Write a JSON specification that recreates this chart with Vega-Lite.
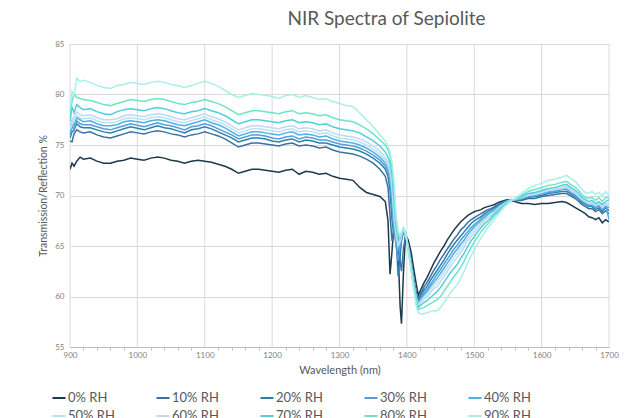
{
  "$schema": "https://vega.github.io/schema/vega-lite/v6.json",
  "width": 539,
  "height": 303,
  "autosize": "none",
  "padding": {"left": 70, "top": 44, "right": 30, "bottom": 71},
  "background": "white",
  "config": {
    "font": "Lato",
    "view": {"stroke": null},
    "axis": {"labelFont": "Lato", "titleFont": "Lato", "labelColor": "#7f7f7f", "titleColor": "#595959", "gridColor": "#d9d9d9", "gridWidth": 1, "titleFontWeight": "normal"}
  },
  "title": {"text": "NIR Spectra of Sepiolite", "fontSize": 19, "font": "Lato", "fontWeight": "normal", "color": "#595959", "anchor": "middle", "dx": 47, "offset": 11},
  "datasets": {
    "gridlines": [{"g":900},{"g":1000},{"g":1100},{"g":1200},{"g":1300},{"g":1400},{"g":1500},{"g":1600},{"g":1700}],
    "spectra": [
    {"w":900,"0% RH":72.6,"10% RH":75.4,"20% RH":75.7,"30% RH":75.9,"40% RH":76.2,"50% RH":76.5,"60% RH":76.8,"70% RH":77.3,"80% RH":78.0,"90% RH":78.6},
    {"w":903,"0% RH":73.2,"10% RH":75.3,"20% RH":76.3,"30% RH":76.9,"40% RH":77.3,"50% RH":77.0,"60% RH":77.5,"70% RH":78.8,"80% RH":79.3,"90% RH":80.3},
    {"w":906,"0% RH":72.9,"10% RH":76.1,"20% RH":76.5,"30% RH":76.5,"40% RH":76.9,"50% RH":77.5,"60% RH":77.8,"70% RH":78.2,"80% RH":80.1,"90% RH":79.9},
    {"w":910,"0% RH":73.4,"10% RH":76.5,"20% RH":77.1,"30% RH":77.4,"40% RH":77.7,"50% RH":77.9,"60% RH":78.3,"70% RH":79.0,"80% RH":79.7,"90% RH":81.6},
    {"w":915,"0% RH":73.8,"10% RH":76.3,"20% RH":76.8,"30% RH":77.1,"40% RH":77.5,"50% RH":77.7,"60% RH":78.0,"70% RH":78.7,"80% RH":79.6,"90% RH":81.3},
    {"w":920,"0% RH":73.6,"10% RH":76.2,"20% RH":76.7,"30% RH":77.0,"40% RH":77.3,"50% RH":77.6,"60% RH":77.9,"70% RH":78.5,"80% RH":79.5,"90% RH":81.4},
    {"w":930,"0% RH":73.7,"10% RH":76.3,"20% RH":76.7,"30% RH":77.0,"40% RH":77.4,"50% RH":77.7,"60% RH":78.0,"70% RH":78.6,"80% RH":79.4,"90% RH":81.2},
    {"w":940,"0% RH":73.4,"10% RH":76.0,"20% RH":76.5,"30% RH":76.8,"40% RH":77.1,"50% RH":77.4,"60% RH":77.7,"70% RH":78.3,"80% RH":79.2,"90% RH":80.9},
    {"w":950,"0% RH":73.2,"10% RH":75.8,"20% RH":76.3,"30% RH":76.6,"40% RH":76.9,"50% RH":77.2,"60% RH":77.5,"70% RH":78.1,"80% RH":79.0,"90% RH":80.7},
    {"w":960,"0% RH":73.2,"10% RH":75.7,"20% RH":76.2,"30% RH":76.5,"40% RH":76.9,"50% RH":77.2,"60% RH":77.5,"70% RH":78.0,"80% RH":78.9,"90% RH":80.6},
    {"w":970,"0% RH":73.4,"10% RH":75.9,"20% RH":76.4,"30% RH":76.7,"40% RH":77.0,"50% RH":77.3,"60% RH":77.6,"70% RH":78.3,"80% RH":79.1,"90% RH":80.9},
    {"w":980,"0% RH":73.5,"10% RH":76.1,"20% RH":76.6,"30% RH":76.9,"40% RH":77.3,"50% RH":77.6,"60% RH":77.9,"70% RH":78.5,"80% RH":79.3,"90% RH":81.0},
    {"w":990,"0% RH":73.7,"10% RH":76.3,"20% RH":76.8,"30% RH":77.1,"40% RH":77.4,"50% RH":77.7,"60% RH":78.0,"70% RH":78.6,"80% RH":79.5,"90% RH":81.2},
    {"w":1000,"0% RH":73.6,"10% RH":76.2,"20% RH":76.65,"30% RH":76.95,"40% RH":77.3,"50% RH":77.6,"60% RH":77.9,"70% RH":78.5,"80% RH":79.4,"90% RH":81.1},
    {"w":1010,"0% RH":73.5,"10% RH":76.1,"20% RH":76.5,"30% RH":76.8,"40% RH":77.2,"50% RH":77.5,"60% RH":77.8,"70% RH":78.4,"80% RH":79.3,"90% RH":81.0},
    {"w":1020,"0% RH":73.7,"10% RH":76.3,"20% RH":76.7,"30% RH":77.0,"40% RH":77.4,"50% RH":77.7,"60% RH":78.0,"70% RH":78.6,"80% RH":79.5,"90% RH":81.2},
    {"w":1030,"0% RH":73.8,"10% RH":76.4,"20% RH":76.9,"30% RH":77.2,"40% RH":77.5,"50% RH":77.8,"60% RH":78.1,"70% RH":78.7,"80% RH":79.6,"90% RH":81.3},
    {"w":1040,"0% RH":73.7,"10% RH":76.3,"20% RH":76.7,"30% RH":77.0,"40% RH":77.4,"50% RH":77.7,"60% RH":78.0,"70% RH":78.6,"80% RH":79.5,"90% RH":81.2},
    {"w":1050,"0% RH":73.5,"10% RH":76.1,"20% RH":76.6,"30% RH":76.9,"40% RH":77.2,"50% RH":77.5,"60% RH":77.8,"70% RH":78.4,"80% RH":79.3,"90% RH":81.0},
    {"w":1060,"0% RH":73.4,"10% RH":76.0,"20% RH":76.4,"30% RH":76.7,"40% RH":77.0,"50% RH":77.3,"60% RH":77.6,"70% RH":78.2,"80% RH":79.1,"90% RH":80.9},
    {"w":1070,"0% RH":73.2,"10% RH":75.8,"20% RH":76.2,"30% RH":76.5,"40% RH":76.9,"50% RH":77.2,"60% RH":77.5,"70% RH":78.1,"80% RH":79.0,"90% RH":80.7},
    {"w":1080,"0% RH":73.4,"10% RH":76.0,"20% RH":76.5,"30% RH":76.8,"40% RH":77.1,"50% RH":77.4,"60% RH":77.7,"70% RH":78.3,"80% RH":79.2,"90% RH":80.9},
    {"w":1090,"0% RH":73.5,"10% RH":76.1,"20% RH":76.6,"30% RH":76.9,"40% RH":77.3,"50% RH":77.6,"60% RH":77.9,"70% RH":78.4,"80% RH":79.3,"90% RH":81.1},
    {"w":1100,"0% RH":73.4,"10% RH":76.3,"20% RH":76.8,"30% RH":77.1,"40% RH":77.5,"50% RH":77.8,"60% RH":78.1,"70% RH":78.6,"80% RH":79.5,"90% RH":81.3},
    {"w":1110,"0% RH":73.3,"10% RH":76.1,"20% RH":76.6,"30% RH":76.9,"40% RH":77.2,"50% RH":77.5,"60% RH":77.8,"70% RH":78.4,"80% RH":79.3,"90% RH":81.1},
    {"w":1120,"0% RH":73.1,"10% RH":75.9,"20% RH":76.3,"30% RH":76.6,"40% RH":77.0,"50% RH":77.3,"60% RH":77.6,"70% RH":78.2,"80% RH":79.1,"90% RH":80.8},
    {"w":1130,"0% RH":72.9,"10% RH":75.6,"20% RH":76.0,"30% RH":76.3,"40% RH":76.7,"50% RH":77.0,"60% RH":77.3,"70% RH":77.9,"80% RH":78.8,"90% RH":80.4},
    {"w":1140,"0% RH":72.6,"10% RH":75.2,"20% RH":75.7,"30% RH":76.0,"40% RH":76.3,"50% RH":76.6,"60% RH":76.9,"70% RH":77.5,"80% RH":78.4,"90% RH":80.0},
    {"w":1150,"0% RH":72.2,"10% RH":74.8,"20% RH":75.3,"30% RH":75.6,"40% RH":75.9,"50% RH":76.2,"60% RH":76.5,"70% RH":77.1,"80% RH":78.0,"90% RH":79.7},
    {"w":1160,"0% RH":72.4,"10% RH":75.0,"20% RH":75.5,"30% RH":75.8,"40% RH":76.1,"50% RH":76.4,"60% RH":76.7,"70% RH":77.3,"80% RH":78.2,"90% RH":79.9},
    {"w":1170,"0% RH":72.6,"10% RH":75.2,"20% RH":75.7,"30% RH":76.0,"40% RH":76.3,"50% RH":76.6,"60% RH":76.9,"70% RH":77.5,"80% RH":78.4,"90% RH":80.1},
    {"w":1180,"0% RH":72.6,"10% RH":75.2,"20% RH":75.7,"30% RH":76.0,"40% RH":76.3,"50% RH":76.6,"60% RH":76.9,"70% RH":77.5,"80% RH":78.4,"90% RH":80.0},
    {"w":1190,"0% RH":72.5,"10% RH":75.1,"20% RH":75.6,"30% RH":75.9,"40% RH":76.2,"50% RH":76.5,"60% RH":76.8,"70% RH":77.4,"80% RH":78.3,"90% RH":79.9},
    {"w":1200,"0% RH":72.4,"10% RH":75.0,"20% RH":75.4,"30% RH":75.7,"40% RH":76.1,"50% RH":76.4,"60% RH":76.7,"70% RH":77.3,"80% RH":78.2,"90% RH":79.8},
    {"w":1210,"0% RH":72.3,"10% RH":74.9,"20% RH":75.3,"30% RH":75.6,"40% RH":76.0,"50% RH":76.3,"60% RH":76.6,"70% RH":77.2,"80% RH":78.1,"90% RH":79.6},
    {"w":1220,"0% RH":72.5,"10% RH":75.1,"20% RH":75.5,"30% RH":75.8,"40% RH":76.2,"50% RH":76.5,"60% RH":76.8,"70% RH":77.4,"80% RH":78.3,"90% RH":79.9},
    {"w":1230,"0% RH":72.6,"10% RH":75.2,"20% RH":75.6,"30% RH":75.9,"40% RH":76.3,"50% RH":76.6,"60% RH":76.9,"70% RH":77.5,"80% RH":78.4,"90% RH":80.0},
    {"w":1240,"0% RH":72.1,"10% RH":74.9,"20% RH":75.3,"30% RH":75.6,"40% RH":76.0,"50% RH":76.3,"60% RH":76.6,"70% RH":77.2,"80% RH":78.1,"90% RH":79.7},
    {"w":1250,"0% RH":72.4,"10% RH":75.0,"20% RH":75.5,"30% RH":75.8,"40% RH":76.1,"50% RH":76.4,"60% RH":76.7,"70% RH":77.3,"80% RH":78.2,"90% RH":79.9},
    {"w":1260,"0% RH":72.3,"10% RH":74.9,"20% RH":75.4,"30% RH":75.7,"40% RH":76.0,"50% RH":76.3,"60% RH":76.6,"70% RH":77.2,"80% RH":78.1,"90% RH":79.7},
    {"w":1270,"0% RH":72.1,"10% RH":74.7,"20% RH":75.2,"30% RH":75.5,"40% RH":75.8,"50% RH":76.1,"60% RH":76.4,"70% RH":77.0,"80% RH":77.9,"90% RH":79.5},
    {"w":1280,"0% RH":72.2,"10% RH":74.8,"20% RH":75.2,"30% RH":75.5,"40% RH":75.9,"50% RH":76.2,"60% RH":76.5,"70% RH":77.1,"80% RH":78.0,"90% RH":79.6},
    {"w":1290,"0% RH":71.9,"10% RH":74.5,"20% RH":75.0,"30% RH":75.3,"40% RH":75.6,"50% RH":75.9,"60% RH":76.2,"70% RH":76.8,"80% RH":77.7,"90% RH":79.3},
    {"w":1300,"0% RH":71.7,"10% RH":74.3,"20% RH":74.8,"30% RH":75.1,"40% RH":75.4,"50% RH":75.7,"60% RH":76.0,"70% RH":76.6,"80% RH":77.5,"90% RH":79.1},
    {"w":1310,"0% RH":71.6,"10% RH":74.2,"20% RH":74.7,"30% RH":75.0,"40% RH":75.3,"50% RH":75.6,"60% RH":75.9,"70% RH":76.5,"80% RH":77.4,"90% RH":78.9},
    {"w":1320,"0% RH":71.5,"10% RH":74.1,"20% RH":74.6,"30% RH":74.9,"40% RH":75.2,"50% RH":75.5,"60% RH":75.8,"70% RH":76.4,"80% RH":77.3,"90% RH":78.8},
    {"w":1330,"0% RH":70.8,"10% RH":73.9,"20% RH":74.4,"30% RH":74.7,"40% RH":75.0,"50% RH":75.3,"60% RH":75.6,"70% RH":76.2,"80% RH":77.0,"90% RH":78.2},
    {"w":1340,"0% RH":70.3,"10% RH":73.6,"20% RH":74.1,"30% RH":74.4,"40% RH":74.7,"50% RH":75.0,"60% RH":75.3,"70% RH":75.8,"80% RH":76.6,"90% RH":77.5},
    {"w":1350,"0% RH":70.1,"10% RH":73.2,"20% RH":73.7,"30% RH":74.0,"40% RH":74.3,"50% RH":74.6,"60% RH":74.9,"70% RH":75.4,"80% RH":76.1,"90% RH":76.8},
    {"w":1360,"0% RH":69.9,"10% RH":72.6,"20% RH":73.2,"30% RH":73.5,"40% RH":73.8,"50% RH":74.1,"60% RH":74.4,"70% RH":74.9,"80% RH":75.5,"90% RH":76.0},
    {"w":1368,"0% RH":69.4,"10% RH":71.9,"20% RH":72.6,"30% RH":72.9,"40% RH":73.2,"50% RH":73.5,"60% RH":73.8,"70% RH":74.3,"80% RH":75.0,"90% RH":75.4},
    {"w":1372,"0% RH":67.5,"10% RH":70.8,"20% RH":71.9,"30% RH":72.4,"40% RH":72.7,"50% RH":73.0,"60% RH":73.3,"70% RH":73.8,"80% RH":74.5,"90% RH":74.9},
    {"w":1375,"0% RH":62.2,"10% RH":68.0,"20% RH":70.5,"30% RH":71.5,"40% RH":72.0,"50% RH":72.3,"60% RH":72.6,"70% RH":73.2,"80% RH":73.9,"90% RH":74.3},
    {"w":1378,"0% RH":64.5,"10% RH":65.5,"20% RH":67.5,"30% RH":69.0,"40% RH":70.0,"50% RH":70.6,"60% RH":71.2,"70% RH":72.0,"80% RH":72.8,"90% RH":73.3},
    {"w":1381,"0% RH":67.4,"10% RH":66.5,"20% RH":66.0,"30% RH":66.5,"40% RH":67.0,"50% RH":67.8,"60% RH":68.5,"70% RH":69.5,"80% RH":70.5,"90% RH":71.3},
    {"w":1384,"0% RH":66.8,"10% RH":66.9,"20% RH":65.8,"30% RH":65.0,"40% RH":65.5,"50% RH":66.0,"60% RH":66.5,"70% RH":67.0,"80% RH":67.5,"90% RH":68.0},
    {"w":1387,"0% RH":64.5,"10% RH":66.0,"20% RH":62.0,"30% RH":63.5,"40% RH":64.5,"50% RH":65.0,"60% RH":65.3,"70% RH":65.8,"80% RH":66.0,"90% RH":66.5},
    {"w":1390,"0% RH":59.0,"10% RH":63.5,"20% RH":64.0,"30% RH":65.0,"40% RH":65.2,"50% RH":65.4,"60% RH":65.5,"70% RH":65.8,"80% RH":65.9,"90% RH":66.0},
    {"w":1392,"0% RH":57.3,"10% RH":62.5,"20% RH":65.5,"30% RH":65.8,"40% RH":66.0,"50% RH":66.1,"60% RH":66.2,"70% RH":66.3,"80% RH":66.3,"90% RH":66.3},
    {"w":1395,"0% RH":62.5,"10% RH":64.8,"20% RH":66.4,"30% RH":66.5,"40% RH":66.6,"50% RH":66.6,"60% RH":66.7,"70% RH":66.7,"80% RH":66.8,"90% RH":66.8},
    {"w":1398,"0% RH":66.1,"10% RH":66.0,"20% RH":66.2,"30% RH":66.2,"40% RH":66.2,"50% RH":66.3,"60% RH":66.3,"70% RH":66.3,"80% RH":66.3,"90% RH":66.2},
    {"w":1402,"0% RH":65.6,"10% RH":65.0,"20% RH":65.0,"30% RH":65.0,"40% RH":64.9,"50% RH":64.8,"60% RH":64.8,"70% RH":64.7,"80% RH":64.7,"90% RH":64.6},
    {"w":1406,"0% RH":64.5,"10% RH":63.5,"20% RH":63.4,"30% RH":63.3,"40% RH":63.2,"50% RH":63.1,"60% RH":63.0,"70% RH":62.9,"80% RH":62.8,"90% RH":62.7},
    {"w":1410,"0% RH":62.8,"10% RH":61.8,"20% RH":61.6,"30% RH":61.5,"40% RH":61.4,"50% RH":61.3,"60% RH":61.2,"70% RH":61.1,"80% RH":61.0,"90% RH":60.8},
    {"w":1414,"0% RH":61.2,"10% RH":60.3,"20% RH":60.1,"30% RH":60.0,"40% RH":59.9,"50% RH":59.8,"60% RH":59.7,"70% RH":59.5,"80% RH":59.3,"90% RH":59.0},
    {"w":1417,"0% RH":60.1,"10% RH":59.6,"20% RH":59.4,"30% RH":59.3,"40% RH":59.2,"50% RH":59.1,"60% RH":59.0,"70% RH":58.9,"80% RH":58.7,"90% RH":58.4},
    {"w":1420,"0% RH":60.6,"10% RH":60.2,"20% RH":60.0,"30% RH":59.8,"40% RH":59.7,"50% RH":59.5,"60% RH":59.4,"70% RH":59.1,"80% RH":58.8,"90% RH":58.3},
    {"w":1425,"0% RH":61.3,"10% RH":60.9,"20% RH":60.6,"30% RH":60.3,"40% RH":60.1,"50% RH":59.9,"60% RH":59.7,"70% RH":59.4,"80% RH":58.9,"90% RH":58.3},
    {"w":1430,"0% RH":61.9,"10% RH":61.4,"20% RH":61.0,"30% RH":60.7,"40% RH":60.5,"50% RH":60.3,"60% RH":60.0,"70% RH":59.6,"80% RH":59.1,"90% RH":58.4},
    {"w":1435,"0% RH":62.6,"10% RH":62.0,"20% RH":61.6,"30% RH":61.2,"40% RH":61.0,"50% RH":60.7,"60% RH":60.4,"70% RH":59.9,"80% RH":59.3,"90% RH":58.5},
    {"w":1440,"0% RH":63.3,"10% RH":62.6,"20% RH":62.1,"30% RH":61.7,"40% RH":61.4,"50% RH":61.1,"60% RH":60.8,"70% RH":60.2,"80% RH":59.5,"90% RH":58.6},
    {"w":1445,"0% RH":63.9,"10% RH":63.1,"20% RH":62.6,"30% RH":62.2,"40% RH":61.8,"50% RH":61.4,"60% RH":61.0,"70% RH":60.5,"80% RH":59.7,"90% RH":58.6},
    {"w":1450,"0% RH":64.5,"10% RH":63.7,"20% RH":63.1,"30% RH":62.7,"40% RH":62.3,"50% RH":61.9,"60% RH":61.5,"70% RH":60.9,"80% RH":60.0,"90% RH":58.9},
    {"w":1455,"0% RH":65.0,"10% RH":64.2,"20% RH":63.6,"30% RH":63.2,"40% RH":62.8,"50% RH":62.4,"60% RH":62.0,"70% RH":61.4,"80% RH":60.5,"90% RH":59.4},
    {"w":1460,"0% RH":65.6,"10% RH":64.7,"20% RH":64.2,"30% RH":63.7,"40% RH":63.3,"50% RH":62.9,"60% RH":62.5,"70% RH":61.9,"80% RH":61.0,"90% RH":59.9},
    {"w":1465,"0% RH":66.1,"10% RH":65.2,"20% RH":64.7,"30% RH":64.2,"40% RH":63.8,"50% RH":63.4,"60% RH":63.0,"70% RH":62.4,"80% RH":61.5,"90% RH":60.4},
    {"w":1470,"0% RH":66.6,"10% RH":65.7,"20% RH":65.2,"30% RH":64.7,"40% RH":64.3,"50% RH":63.9,"60% RH":63.5,"70% RH":62.8,"80% RH":62.0,"90% RH":60.8},
    {"w":1475,"0% RH":67.0,"10% RH":66.1,"20% RH":65.6,"30% RH":65.1,"40% RH":64.7,"50% RH":64.3,"60% RH":63.9,"70% RH":63.2,"80% RH":62.4,"90% RH":61.2},
    {"w":1480,"0% RH":67.4,"10% RH":66.6,"20% RH":66.0,"30% RH":65.6,"40% RH":65.2,"50% RH":64.8,"60% RH":64.4,"70% RH":63.8,"80% RH":62.9,"90% RH":61.8},
    {"w":1485,"0% RH":67.7,"10% RH":66.9,"20% RH":66.4,"30% RH":66.0,"40% RH":65.6,"50% RH":65.3,"60% RH":64.9,"70% RH":64.3,"80% RH":63.5,"90% RH":62.5},
    {"w":1490,"0% RH":68.0,"10% RH":67.3,"20% RH":66.8,"30% RH":66.4,"40% RH":66.1,"50% RH":65.8,"60% RH":65.5,"70% RH":64.9,"80% RH":64.2,"90% RH":63.3},
    {"w":1495,"0% RH":68.2,"10% RH":67.6,"20% RH":67.2,"30% RH":66.8,"40% RH":66.5,"50% RH":66.2,"60% RH":65.9,"70% RH":65.5,"80% RH":64.8,"90% RH":64.0},
    {"w":1500,"0% RH":68.4,"10% RH":67.8,"20% RH":67.5,"30% RH":67.1,"40% RH":66.9,"50% RH":66.6,"60% RH":66.3,"70% RH":65.9,"80% RH":65.4,"90% RH":64.6},
    {"w":1505,"0% RH":68.5,"10% RH":68.0,"20% RH":67.7,"30% RH":67.4,"40% RH":67.2,"50% RH":67.0,"60% RH":66.7,"70% RH":66.4,"80% RH":65.9,"90% RH":65.2},
    {"w":1510,"0% RH":68.6,"10% RH":68.2,"20% RH":67.9,"30% RH":67.7,"40% RH":67.5,"50% RH":67.3,"60% RH":67.1,"70% RH":66.8,"80% RH":66.4,"90% RH":65.8},
    {"w":1515,"0% RH":68.8,"10% RH":68.4,"20% RH":68.2,"30% RH":68.0,"40% RH":67.8,"50% RH":67.6,"60% RH":67.5,"70% RH":67.2,"80% RH":66.8,"90% RH":66.3},
    {"w":1520,"0% RH":68.9,"10% RH":68.6,"20% RH":68.4,"30% RH":68.2,"40% RH":68.1,"50% RH":67.9,"60% RH":67.8,"70% RH":67.5,"80% RH":67.2,"90% RH":66.8},
    {"w":1525,"0% RH":69.0,"10% RH":68.7,"20% RH":68.6,"30% RH":68.4,"40% RH":68.3,"50% RH":68.2,"60% RH":68.0,"70% RH":67.8,"80% RH":67.6,"90% RH":67.2},
    {"w":1530,"0% RH":69.1,"10% RH":68.9,"20% RH":68.8,"30% RH":68.6,"40% RH":68.5,"50% RH":68.4,"60% RH":68.3,"70% RH":68.2,"80% RH":68.0,"90% RH":67.7},
    {"w":1535,"0% RH":69.3,"10% RH":69.1,"20% RH":69.0,"30% RH":68.9,"40% RH":68.8,"50% RH":68.7,"60% RH":68.7,"70% RH":68.5,"80% RH":68.3,"90% RH":68.1},
    {"w":1540,"0% RH":69.4,"10% RH":69.3,"20% RH":69.2,"30% RH":69.1,"40% RH":69.0,"50% RH":69.0,"60% RH":68.9,"70% RH":68.8,"80% RH":68.7,"90% RH":68.5},
    {"w":1545,"0% RH":69.5,"10% RH":69.4,"20% RH":69.4,"30% RH":69.3,"40% RH":69.3,"50% RH":69.2,"60% RH":69.2,"70% RH":69.1,"80% RH":69.0,"90% RH":68.9},
    {"w":1550,"0% RH":69.6,"10% RH":69.5,"20% RH":69.5,"30% RH":69.5,"40% RH":69.4,"50% RH":69.4,"60% RH":69.4,"70% RH":69.3,"80% RH":69.3,"90% RH":69.2},
    {"w":1555,"0% RH":69.5,"10% RH":69.6,"20% RH":69.5,"30% RH":69.6,"40% RH":69.5,"50% RH":69.6,"60% RH":69.5,"70% RH":69.5,"80% RH":69.6,"90% RH":69.5},
    {"w":1560,"0% RH":69.4,"10% RH":69.5,"20% RH":69.5,"30% RH":69.5,"40% RH":69.6,"50% RH":69.6,"60% RH":69.6,"70% RH":69.6,"80% RH":69.6,"90% RH":69.7},
    {"w":1570,"0% RH":69.2,"10% RH":69.5,"20% RH":69.6,"30% RH":69.7,"40% RH":69.7,"50% RH":69.8,"60% RH":69.8,"70% RH":69.9,"80% RH":70.0,"90% RH":70.2},
    {"w":1580,"0% RH":69.2,"10% RH":69.7,"20% RH":69.8,"30% RH":69.9,"40% RH":70.0,"50% RH":70.0,"60% RH":70.1,"70% RH":70.2,"80% RH":70.4,"90% RH":70.7},
    {"w":1590,"0% RH":69.1,"10% RH":69.7,"20% RH":69.9,"30% RH":70.0,"40% RH":70.1,"50% RH":70.1,"60% RH":70.2,"70% RH":70.3,"80% RH":70.6,"90% RH":71.0},
    {"w":1600,"0% RH":69.2,"10% RH":69.9,"20% RH":70.0,"30% RH":70.2,"40% RH":70.2,"50% RH":70.3,"60% RH":70.4,"70% RH":70.5,"80% RH":70.8,"90% RH":71.2},
    {"w":1610,"0% RH":69.2,"10% RH":70.0,"20% RH":70.2,"30% RH":70.3,"40% RH":70.4,"50% RH":70.5,"60% RH":70.5,"70% RH":70.7,"80% RH":71.0,"90% RH":71.5},
    {"w":1620,"0% RH":69.3,"10% RH":70.1,"20% RH":70.3,"30% RH":70.4,"40% RH":70.5,"50% RH":70.6,"60% RH":70.6,"70% RH":70.8,"80% RH":71.1,"90% RH":71.6},
    {"w":1630,"0% RH":69.4,"10% RH":70.2,"20% RH":70.4,"30% RH":70.6,"40% RH":70.7,"50% RH":70.7,"60% RH":70.8,"70% RH":71.0,"80% RH":71.3,"90% RH":71.8},
    {"w":1637,"0% RH":69.3,"10% RH":70.2,"20% RH":70.4,"30% RH":70.6,"40% RH":70.7,"50% RH":70.8,"60% RH":70.9,"70% RH":71.1,"80% RH":71.4,"90% RH":72.0},
    {"w":1645,"0% RH":69.0,"10% RH":69.9,"20% RH":70.1,"30% RH":70.2,"40% RH":70.4,"50% RH":70.4,"60% RH":70.5,"70% RH":70.7,"80% RH":71.0,"90% RH":71.6},
    {"w":1650,"0% RH":68.8,"10% RH":69.7,"20% RH":69.9,"30% RH":70.0,"40% RH":70.1,"50% RH":70.2,"60% RH":70.3,"70% RH":70.5,"80% RH":70.8,"90% RH":71.4},
    {"w":1655,"0% RH":68.6,"10% RH":69.4,"20% RH":69.6,"30% RH":69.7,"40% RH":69.8,"50% RH":69.9,"60% RH":70.0,"70% RH":70.2,"80% RH":70.5,"90% RH":71.0},
    {"w":1660,"0% RH":68.4,"10% RH":69.1,"20% RH":69.3,"30% RH":69.5,"40% RH":69.5,"50% RH":69.6,"60% RH":69.7,"70% RH":69.8,"80% RH":70.1,"90% RH":70.6},
    {"w":1665,"0% RH":68.2,"10% RH":68.9,"20% RH":69.1,"30% RH":69.2,"40% RH":69.3,"50% RH":69.4,"60% RH":69.4,"70% RH":69.6,"80% RH":69.8,"90% RH":70.3},
    {"w":1670,"0% RH":67.9,"10% RH":68.7,"20% RH":68.9,"30% RH":69.0,"40% RH":69.1,"50% RH":69.2,"60% RH":69.2,"70% RH":69.4,"80% RH":69.7,"90% RH":70.2},
    {"w":1675,"0% RH":67.8,"10% RH":68.7,"20% RH":68.9,"30% RH":69.0,"40% RH":69.2,"50% RH":69.2,"60% RH":69.3,"70% RH":69.5,"80% RH":69.8,"90% RH":70.4},
    {"w":1680,"0% RH":67.6,"10% RH":68.4,"20% RH":68.6,"30% RH":68.8,"40% RH":68.9,"50% RH":69.0,"60% RH":69.0,"70% RH":69.2,"80% RH":69.5,"90% RH":70.1},
    {"w":1685,"0% RH":67.8,"10% RH":68.6,"20% RH":68.8,"30% RH":69.0,"40% RH":69.1,"50% RH":69.2,"60% RH":69.2,"70% RH":69.4,"80% RH":69.8,"90% RH":70.3},
    {"w":1690,"0% RH":67.3,"10% RH":68.2,"20% RH":68.4,"30% RH":68.6,"40% RH":68.7,"50% RH":68.8,"60% RH":68.9,"70% RH":69.1,"80% RH":69.4,"90% RH":70.0},
    {"w":1695,"0% RH":67.6,"10% RH":68.5,"20% RH":68.8,"30% RH":68.9,"40% RH":69.1,"50% RH":69.1,"60% RH":69.2,"70% RH":69.4,"80% RH":69.8,"90% RH":70.4},
    {"w":1700,"0% RH":67.4,"10% RH":68.2,"20% RH":68.5,"30% RH":68.8,"40% RH":67.6,"50% RH":69.0,"60% RH":69.2,"70% RH":69.6,"80% RH":69.8,"90% RH":70.0}
    ]
  },
  "layer": [
    {
      "data": {"name": "gridlines"},
      "mark": {"type": "rule", "color": "#d9d9d9", "strokeWidth": 1},
      "encoding": {
        "x": {"field": "g", "type": "quantitative", "scale": {"domain": [900, 1700], "nice": false}, "axis": null}
      }
    },
    {
      "data": {"name": "spectra"},
      "transform": [
        {"fold": ["0% RH","10% RH","20% RH","30% RH","40% RH","50% RH","60% RH","70% RH","80% RH","90% RH"], "as": ["series","value"]}
      ],
      "mark": {"type": "line", "strokeWidth": 0, "opacity": 0},
      "encoding": {
        "x": {"field": "w", "type": "quantitative", "scale": {"domain": [900, 1700], "nice": false},
          "axis": {"orient": "bottom", "title": null, "labels": false, "grid": false, "domain": false, "ticks": true, "tickSize": 3, "tickColor": "#bfbfbf",
            "values": [920,940,960,980,1020,1040,1060,1080,1120,1140,1160,1180,1220,1240,1260,1280,1320,1340,1360,1380,1420,1440,1460,1480,1520,1540,1560,1580,1620,1640,1660,1680]}},
        "y": {"field": "value", "type": "quantitative", "scale": {"domain": [55, 85], "nice": false},
          "axis": {"orient": "right", "title": null, "labels": false, "grid": true, "gridColor": "#d9d9d9", "domain": false, "ticks": false,
            "values": [55,60,65,70,75,80,85]}},
        "detail": {"field": "series", "type": "nominal"}
      }
    },
    {
      "data": {"name": "spectra"},
      "transform": [
        {"fold": ["0% RH","10% RH","20% RH","30% RH","40% RH","50% RH","60% RH","70% RH","80% RH","90% RH"], "as": ["series","value"]}
      ],
      "mark": {"type": "line", "strokeWidth": 1.5, "clip": true},
      "encoding": {
        "x": {"field": "w", "type": "quantitative", "scale": {"domain": [900, 1700], "nice": false},
          "axis": {"orient": "bottom", "title": "Wavelength (nm)", "titleFontSize": 11, "titlePadding": 5, "labelFontSize": 8, "labelPadding": 4, "labelFlush": false, "labelOverlap": false,
            "values": [900,1000,1100,1200,1300,1400,1500,1600,1700], "format": "d", "ticks": false,
            "domainColor": "#bfbfbf", "grid": false}},
        "y": {"field": "value", "type": "quantitative", "scale": {"domain": [55, 85], "nice": false},
          "axis": {"orient": "left", "title": "Transmission/Reflection %", "titleFontSize": 10.5, "titlePadding": 6, "labelFontSize": 8, "labelPadding": 6,
            "values": [55,60,65,70,75,80,85], "ticks": false, "domain": false, "grid": false}},
        "color": {"field": "series", "type": "nominal",
          "scale": {"domain": ["0% RH","10% RH","20% RH","30% RH","40% RH","50% RH","60% RH","70% RH","80% RH","90% RH"],
            "range": ["#1b3a4b","#3d6fa5","#2585a8","#5a9ade","#4bb3df","#b8e3f4","#c3d8f0","#4fcedc","#6be5c8","#a9efe9"]},
          "legend": {"title": null, "orient": "none", "legendX": -19, "legendY": 346, "columns": 5, "direction": "horizontal", "gridAlign": "all", "columnPadding": 37, "rowPadding": 3,
            "symbolType": "stroke", "symbolSize": 170, "symbolStrokeWidth": 2, "labelFontSize": 13, "labelColor": "#595959", "labelFont": "Lato", "labelOffset": 1}},
        "order": {"field": "series", "sort": "ascending"}
      }
    }
  ],
  "resolve": {"axis": {"x": "independent", "y": "independent"}}
}
